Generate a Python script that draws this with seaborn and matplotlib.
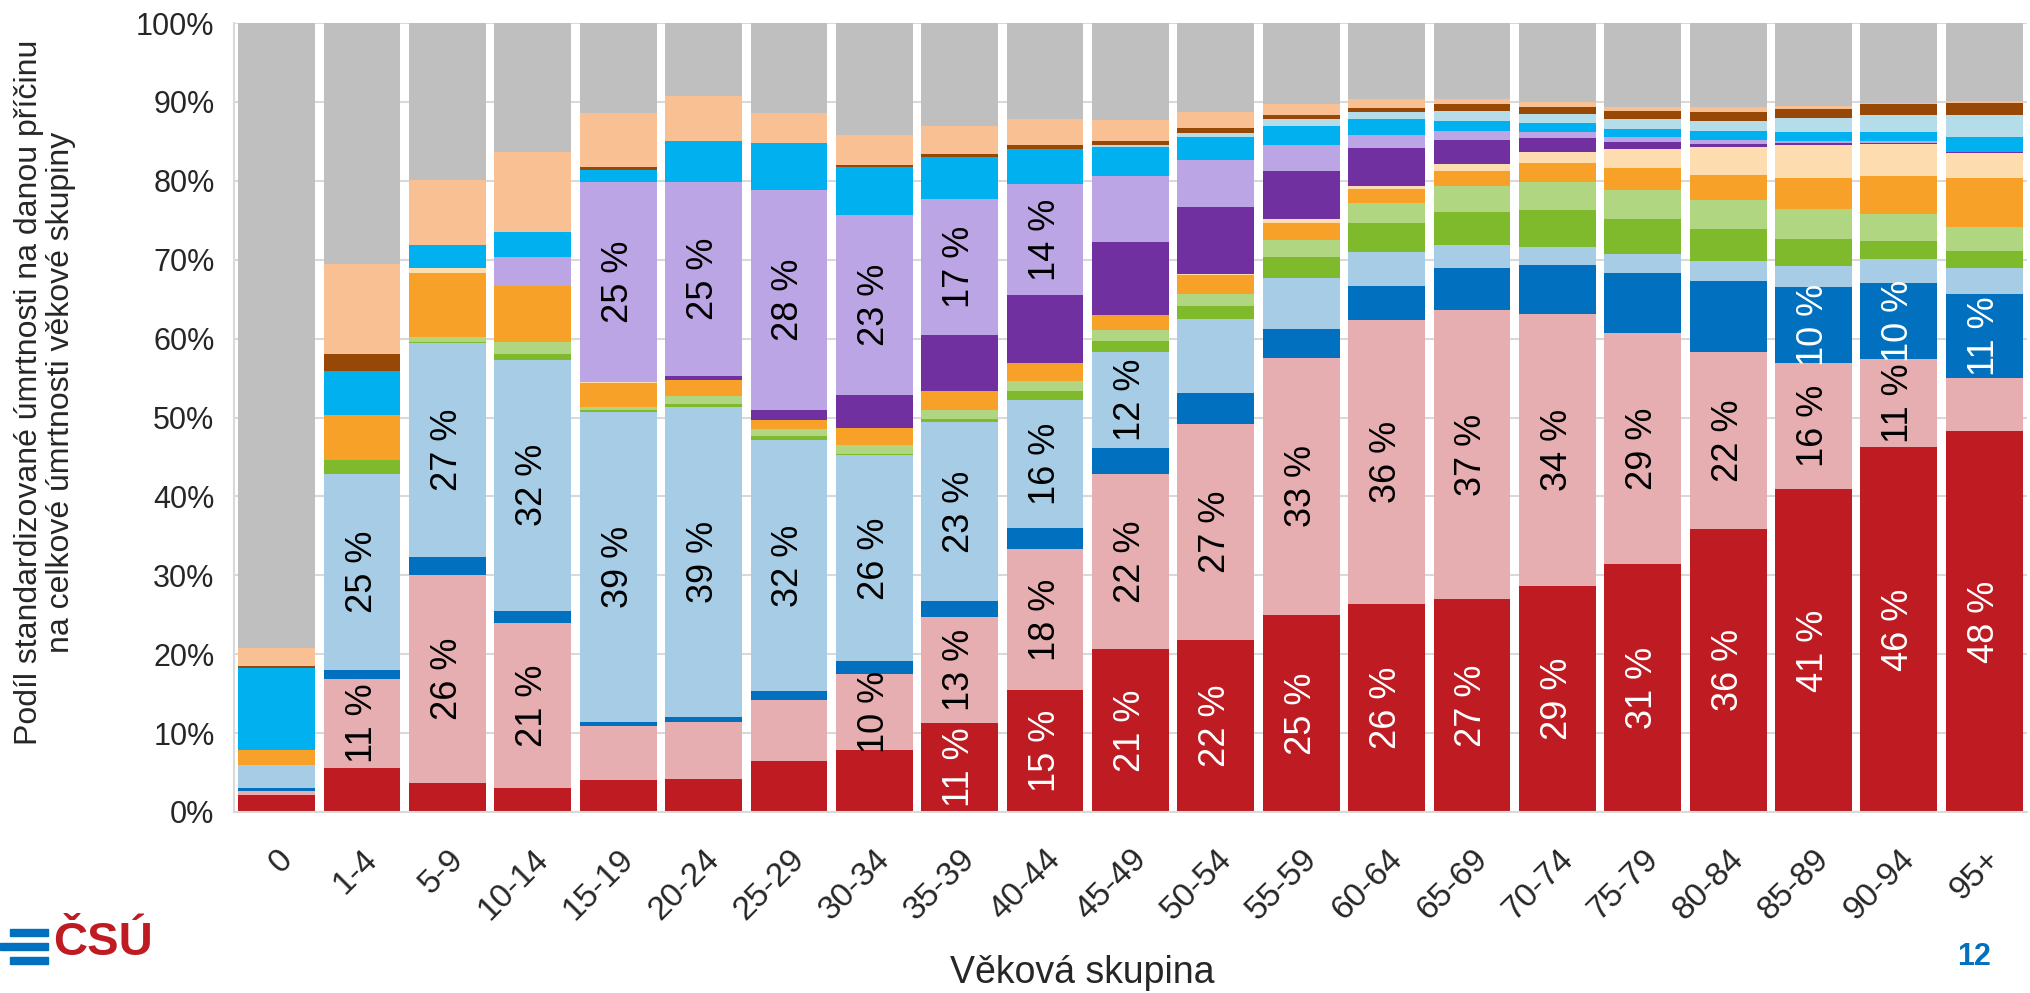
import numpy as np
import pandas as pd
import seaborn as sns
import matplotlib.pyplot as plt
from matplotlib.patches import Rectangle

# Age groups (x axis)
age_groups = ["0", "1-4", "5-9", "10-14", "15-19", "20-24", "25-29", "30-34", "35-39", "40-44",
              "45-49", "50-54", "55-59", "60-64", "65-69", "70-74", "75-79", "80-84", "85-89",
              "90-94", "95+"]

# Share of each cause in total mortality of the age group (%), bottom to top of the stack
dark_red = [2.2, 5.6, 3.7, 3.0, 4.0, 4.2, 6.5, 7.9, 11.3, 15.4, 20.6, 21.8, 25.0, 26.4, 27.0, 28.7,
            31.4, 35.9, 40.9, 46.2, 48.3]
pink = [0.5, 11.3, 26.4, 21.0, 6.9, 7.2, 7.7, 9.6, 13.4, 17.9, 22.3, 27.4, 32.6, 35.9, 36.6, 34.4,
        29.3, 22.4, 16.0, 11.2, 6.7]
dark_blue = [0.3, 1.1, 2.2, 1.5, 0.5, 0.6, 1.1, 1.6, 2.0, 2.7, 3.2, 3.9, 3.6, 4.4, 5.4, 6.2,
             7.6, 9.0, 9.6, 9.6, 10.7]
light_blue = [3.0, 24.9, 27.2, 31.8, 39.3, 39.3, 31.9, 26.1, 22.7, 16.2, 12.2, 9.4, 6.5, 4.3, 2.9, 2.3,
              2.4, 2.6, 2.7, 3.1, 3.2]
green = [0.0, 1.7, 0.1, 0.7, 0.3, 0.4, 0.4, 0.2, 0.4, 1.1, 1.4, 1.6, 2.7, 3.6, 4.2, 4.7,
         4.5, 4.0, 3.4, 2.3, 2.2]
light_green = [0.0, 0.0, 0.6, 1.6, 0.3, 1.0, 0.9, 1.1, 1.1, 1.3, 1.4, 1.5, 2.1, 2.6, 3.3, 3.6,
               3.7, 3.7, 3.8, 3.4, 3.0]
orange = [1.8, 5.7, 8.1, 7.1, 3.1, 2.1, 1.2, 2.2, 2.4, 2.3, 1.9, 2.5, 2.2, 1.8, 1.9, 2.3,
          2.7, 3.2, 4.0, 4.8, 6.3]
light_peach = [0.0, 0.0, 0.7, 0.0, 0.1, 0.0, 0.0, 0.0, 0.0, 0.0, 0.0, 0.1, 0.4, 0.4, 0.8, 1.4,
               2.4, 3.5, 4.1, 4.1, 3.1]
purple = [0.0, 0.0, 0.0, 0.0, 0.0, 0.4, 1.3, 4.1, 7.1, 8.6, 9.2, 8.5, 6.2, 4.7, 3.1, 1.8,
          0.9, 0.4, 0.3, 0.1, 0.1]
lavender = [0.0, 0.0, 0.0, 3.7, 25.3, 24.7, 27.8, 22.9, 17.3, 14.1, 8.4, 5.9, 3.3, 1.7, 1.1, 0.8,
            0.6, 0.5, 0.3, 0.2, 0.1]
cyan = [10.5, 5.6, 2.9, 3.1, 1.6, 5.1, 6.0, 6.1, 5.3, 4.4, 3.7, 3.0, 2.4, 2.0, 1.3, 1.1,
        1.1, 1.1, 1.1, 1.2, 1.8]
light_cyan = [0.0, 0.0, 0.0, 0.0, 0.0, 0.0, 0.0, 0.0, 0.0, 0.0, 0.3, 0.5, 0.8, 0.9, 1.2, 1.2,
              1.2, 1.3, 1.8, 2.2, 2.9]
brown = [0.2, 2.2, 0.0, 0.0, 0.4, 0.0, 0.0, 0.2, 0.4, 0.5, 0.4, 0.6, 0.5, 0.5, 0.9, 0.9,
         1.0, 1.1, 1.1, 1.3, 1.5]
peach = [2.3, 11.3, 8.2, 10.1, 6.8, 5.7, 3.8, 3.8, 3.6, 3.3, 2.7, 2.0, 1.5, 1.2, 0.7, 0.6,
         0.6, 0.7, 0.4, 0.2, 0.2]
other = [79.2, 30.6, 19.9, 16.4, 11.4, 9.3, 11.4, 14.2, 13.0, 12.2, 12.3, 11.3, 10.2, 9.6, 9.6, 10.0,
         10.6, 10.6, 10.5, 10.1, 9.9]

series = [dark_red, pink, dark_blue, light_blue, green, light_green, orange, light_peach,
          purple, lavender, cyan, light_cyan, brown, peach, other]
colors = ["#BE1B22", "#E6AEB0", "#0070BF", "#A6CCE6", "#7FBA2C", "#B0D682", "#F7A128", "#FDDDB0",
          "#7030A0", "#BBA5E4", "#00B0EF", "#B5DDE9", "#974807", "#F9C093", "#BFBFBF"]
# series with value labels -> text colour
labelled = {0: "white", 1: "black", 2: "white", 3: "black", 9: "black"}

cum = np.cumsum(np.array(series), axis=0)
df = pd.DataFrame(cum.T, columns=[f"s{i}" for i in range(len(series))])
df["age"] = age_groups

sns.set_theme(style="whitegrid")
plt.rcParams["font.family"] = ["Liberation Sans", "DejaVu Sans"]

fig = plt.figure(figsize=(20.31, 9.93), dpi=100)
ax = fig.add_axes([0.1152, 0.1823, 0.8828, 0.7945])

# stacked bars: draw cumulative totals from the top layer down
for i in reversed(range(len(series))):
    sns.barplot(data=df, x="age", y=f"s{i}", color=colors[i], saturation=1, width=0.90,
                errorbar=None, linewidth=0, zorder=2, ax=ax)

for s, col in labelled.items():
    for j, v in enumerate(series[s]):
        if round(v) >= 10:
            ax.text(j, cum[s][j] - v / 2, f"{round(v)} %", rotation=90, ha="center", va="center",
                    color=col, fontsize=26, zorder=3)

ax.set_ylim(0, 100)
ax.set_yticks(range(0, 101, 10))
ax.set_yticklabels([f"{t}%" for t in range(0, 101, 10)], fontsize=22)
ax.set_xticks(range(len(age_groups)))
ax.set_xticklabels(age_groups, rotation=45, ha="right", rotation_mode="anchor", fontsize=24)
ax.tick_params(axis="x", pad=17)
ax.tick_params(axis="y", pad=8)
ax.set_xlabel("")
ax.set_ylabel("")
ax.yaxis.grid(True, color="#D9D9D9", linewidth=1.5)
ax.xaxis.grid(False)
ax.set_axisbelow(True)
for side in ["top", "right"]:
    ax.spines[side].set_visible(False)
for side in ["left", "bottom"]:
    ax.spines[side].set_color("#D9D9D9")
    ax.spines[side].set_linewidth(1.5)

fig.text(0.022, 0.605, "Podíl standardizované úmrtnosti na danou příčinu\nna celkové úmrtnosti věkové skupiny",
         rotation=90, ha="center", va="center", multialignment="center", fontsize=23, linespacing=1.1)
fig.text(0.533, 0.02, "Věková skupina", ha="center", va="center", fontsize=27)

# CSU logo and page number
for y0, x0 in [(0.057, 0.005), (0.043, 0.0), (0.029, 0.005)]:
    fig.patches.append(Rectangle((x0, y0), 0.0235 - x0, 0.0075, transform=fig.transFigure,
                                 color="#0070BF"))
fig.text(0.026, 0.05, "ČSÚ", color="#BE1B22", fontsize=34, fontweight="bold", ha="left", va="center")
fig.text(0.972, 0.036, "12", color="#0070BF", fontsize=22, fontweight="bold", ha="center", va="center")

fig.savefig("out.png", dpi=100)
